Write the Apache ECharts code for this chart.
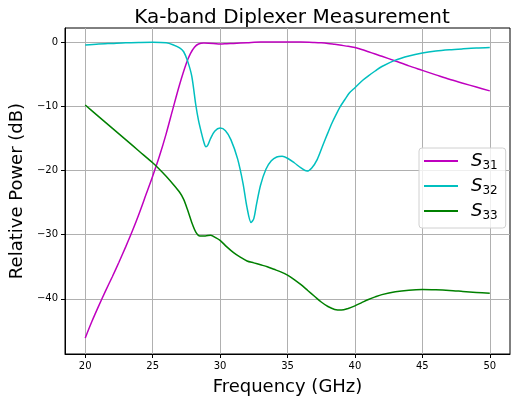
<!DOCTYPE html>
<html>

<head>
    <meta charset="utf-8">
    <title>Ka-band Diplexer</title>
    <script src="https://cdn.jsdelivr.net/npm/echarts@6/dist/echarts.min.js"></script>
</head>

<body style="margin:0">
    <div id="main" style="width: 516px;height:406px;"></div>
    <script type="text/javascript">
        // data (GHz, dB)
        const f31 = [20, 20.5, 21, 21.5, 22, 22.5, 23, 23.5, 24, 24.5, 25, 25.5, 26, 26.5, 27, 27.5, 27.8, 28.1, 28.4, 28.8,
            29.5, 30, 30.5, 31, 32, 33, 34, 35, 36, 37, 37.5, 38, 38.5, 39, 39.5, 40, 40.5, 41, 41.5, 42, 43, 44, 45, 46, 47, 48, 49, 50]
        const s31 = [-46.1, -43.5, -41.1, -38.8, -36.6, -34.3, -31.9, -29.4, -26.7, -23.8, -20.9, -17.8, -14.3, -10.4, -6.6, -3.3, -1.8, -0.8, -0.3, -0.15,
            -0.2, -0.3, -0.25, -0.2, -0.1, 0, 0, 0, 0, -0.05, -0.1, -0.2, -0.35, -0.5, -0.65, -0.85, -1.15, -1.5, -1.85, -2.2, -2.95, -3.7, -4.4, -5.1, -5.8, -6.4, -7.0, -7.6]

        const f32 = [20, 21, 22, 23, 24, 25, 26, 26.5, 27, 27.3, 27.6, 27.9, 28.2, 28.4, 28.6, 28.8, 28.95, 29.1, 29.3, 29.6,
            30, 30.4, 30.8, 31.3, 31.7, 32, 32.3, 32.5, 32.7, 33, 33.4, 33.8, 34.2, 34.6, 35, 35.5, 36, 36.45, 36.8, 37.2,
            37.6, 38, 38.3, 38.6, 38.9, 39.3, 39.6, 40, 40.6, 41, 41.5, 42, 43, 44, 45, 46, 47, 48, 49, 50]
        const s32 = [-0.45, -0.3, -0.2, -0.1, -0.05, -0.02, -0.1, -0.4, -0.9, -1.5, -3.0, -5.3, -9.8, -12.2, -14.0, -15.6, -16.3, -16.0, -15.0, -13.9,
            -13.4, -13.8, -15.2, -18.2, -22.0, -25.8, -28.1, -27.5, -25.3, -22.3, -19.8, -18.5, -17.9, -17.8, -18.1, -18.8, -19.6, -20.1, -19.6, -18.3,
            -16.2, -14.1, -12.6, -11.3, -10.1, -8.8, -7.9, -7.1, -5.9, -5.25, -4.5, -3.8, -2.8, -2.15, -1.7, -1.4, -1.2, -1.05, -0.92, -0.84]

        const f33 = [20, 21, 22, 23, 24, 25, 25.5, 26, 26.5, 27, 27.3, 27.6, 27.9, 28.2, 28.5, 28.9, 29.3, 29.7, 30, 30.5,
            31, 31.5, 32, 32.5, 33, 33.5, 34, 34.5, 35, 35.5, 36, 36.5, 37, 37.5, 38, 38.5, 39, 39.5, 40, 40.5,
            41, 41.5, 42, 43, 44, 45, 46, 47, 48, 49, 50]
        const s33 = [-9.8, -11.6, -13.4, -15.2, -17.0, -18.8, -19.8, -20.9, -22.1, -23.4, -24.5, -26.2, -28.1, -29.6, -30.2, -30.2, -30.1, -30.5, -30.9, -31.9,
            -32.8, -33.5, -34.1, -34.4, -34.7, -35.0, -35.4, -35.8, -36.3, -37.0, -37.8, -38.7, -39.6, -40.5, -41.2, -41.65, -41.75, -41.5, -41.1, -40.6,
            -40.1, -39.7, -39.35, -38.9, -38.65, -38.55, -38.6, -38.7, -38.85, -39.0, -39.15]

        const xTicks = [20, 25, 30, 35, 40, 45, 50]
        const yTicks = [-40, -30, -20, -10, 0]

        const pairs = (xs, ys) => xs.map((x, i) => [x, ys[i]])
        const font = 'DejaVu Sans'
        const minus = v => String(v).replace('-', '\u2212')

        var myChart = echarts.init(document.getElementById('main'));
        var option = {
            animation: false,
            title: {
                text: 'Ka-band Diplexer Measurement',
                left: 287,
                textAlign: 'center',
                top: 3,
                textStyle: { fontFamily: font, fontSize: 20, fontWeight: 'normal', color: '#000' }
            },
            grid: {
                left: 63, top: 28, right: 6, bottom: 52,
                show: true, borderColor: '#000', borderWidth: 1
            },
            legend: {
                orient: 'vertical',
                left: 419, top: 148,
                width: 83,
                padding: [4, 8, 6, 5],
                itemGap: 5,
                itemWidth: 34,
                itemHeight: 2,
                icon: 'rect',
                backgroundColor: 'rgba(255,255,255,0.8)',
                borderColor: '#d0d0d0',
                borderWidth: 1,
                borderRadius: 3,
                formatter: name => '{s|S}{n|' + name.slice(1) + '}',
                textStyle: {
                    padding: [0, 0, 0, 8],
                    rich: {
                        s: { fontFamily: font, fontSize: 18, fontStyle: 'italic', lineHeight: 22, color: '#000' },
                        n: { fontFamily: font, fontSize: 12, lineHeight: 22, verticalAlign: 'bottom', color: '#000' }
                    }
                },
                data: ['S31', 'S32', 'S33']
            },
            xAxis: {
                type: 'value',
                min: 18.5, max: 51.5,
                name: 'Frequency (GHz)',
                nameLocation: 'middle',
                nameGap: 24,
                nameTextStyle: { fontFamily: font, fontSize: 18, color: '#000' },
                axisLine: { show: true, onZero: false, lineStyle: { color: '#000', width: 1 } },
                axisTick: { show: true, length: 4, customValues: xTicks, lineStyle: { color: '#000' } },
                axisLabel: { customValues: xTicks, margin: 7, fontFamily: font, fontSize: 10, color: '#000' },
                splitLine: { show: true, lineStyle: { color: '#b0b0b0', width: 1 } }
            },
            yAxis: {
                type: 'value',
                min: -48.6, max: 2.2,
                name: 'Relative Power (dB)',
                nameLocation: 'middle',
                nameGap: 38,
                nameTextStyle: { fontFamily: font, fontSize: 18, color: '#000' },
                axisLine: { show: true, onZero: false, lineStyle: { color: '#000', width: 1 } },
                axisTick: { show: true, length: 4, customValues: yTicks, lineStyle: { color: '#000' } },
                axisLabel: { customValues: yTicks, margin: 7, fontFamily: font, fontSize: 10, color: '#000', formatter: minus },
                splitLine: { show: true, lineStyle: { color: '#b0b0b0', width: 1 } }
            },
            series: [
                { name: 'S31', type: 'line', data: pairs(f31, s31), smooth: 0.3, showSymbol: false, color: '#bf00bf', lineStyle: { width: 1.5 } },
                { name: 'S32', type: 'line', data: pairs(f32, s32), smooth: 0.3, showSymbol: false, color: '#00bfbf', lineStyle: { width: 1.5 } },
                { name: 'S33', type: 'line', data: pairs(f33, s33), smooth: 0.3, showSymbol: false, color: '#008000', lineStyle: { width: 1.5 } }
            ]
        };
        myChart.setOption(option);
    </script>
</body>

</html>
